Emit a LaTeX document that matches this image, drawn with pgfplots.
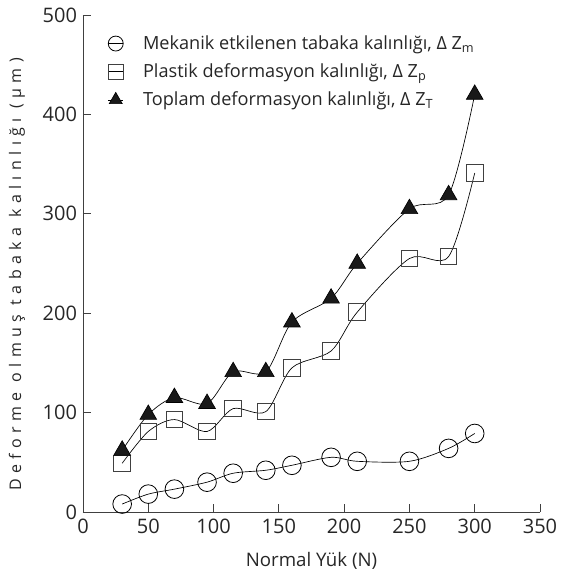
\documentclass[border=0pt]{standalone}
\usepackage{fontspec}
\setmainfont{Open Sans}
\usepackage{pgfplots}
\pgfplotsset{compat=1.18}
\begin{document}
\begin{tikzpicture}
\begin{axis}[
  name=ax,
  scale only axis, width=342.75pt, height=372.75pt,
  xmin=0, xmax=350, ymin=0, ymax=500,
  axis x line*=bottom, axis y line*=left,
  axis line style={-, black!75, line width=0.6pt},
  every tick/.style={black!75, line width=0.6pt},
  tick align=inside, major tick length=6pt,
  xtick={0,50,...,350}, ytick={0,100,...,500},
  tick label style={font=\fontsize{15}{17}\selectfont, text=black!85},
  xticklabel style={yshift=-2pt},
  yticklabel style={xshift=-1pt},
  /pgf/number format/assume math mode=true,
  xlabel={Normal Yük (N)},
  ylabel={\addfontfeature{LetterSpace=34}Deforme olmuş tabaka kalınlığı (µm)},
  xlabel style={font=\fontsize{14}{16}\selectfont, at={(axis description cs:0.5,0)}, anchor=base, yshift=-41pt, text=black!85},
  ylabel style={font=\fontsize{12}{14}\selectfont, at={(axis description cs:-0.1444,0.478)}, anchor=center, text=black!85},
  legend style={at={(0.045,0.967)}, anchor=north west, draw=none, fill=none,
    font=\fontsize{13.6}{15}\selectfont, row sep=7.25pt,
    nodes={inner ysep=1pt, text=black!85}},
  legend cell align=left,
  legend image code/.code={\draw[mark repeat=2,mark phase=2] plot coordinates {(0cm,0cm)(0.2cm,0cm)(0.4cm,0cm)}; \path[draw=none] (0cm,0cm) -- (0.85cm,0cm);},
  legend image post style={mark size=5.6pt},
]
\addplot[black, line width=0.5pt, smooth, mark=o, mark size=7pt, mark options={line width=0.6pt}] coordinates {
(30,8)(50,18)(70,23)(95,30)(115,39)(140,42)(160,47)(190,55)(210,51)(250,51)(280,64)(300,79)};
\addlegendentry{Mekanik etkilenen tabaka kalınlığı, Δ Z\textsubscript{m}}
\addplot[black, line width=0.5pt, smooth, mark=square, mark size=6.2pt, mark options={draw=black!75, line width=0.7pt}] coordinates {
(30,49)(50,81)(70,93)(95,81)(115,104)(140,101)(160,145)(190,162)(210,201)(250,255)(280,257)(300,341)};
\addlegendentry{Plastik deformasyon kalınlığı, Δ Z\textsubscript{p}}
\addplot[black, line width=0.5pt, smooth, mark=triangle*, mark size=7.2pt, mark options={fill=black!90}] coordinates {
(30,62)(50,98)(70,115)(95,109)(115,141)(140,141)(160,191)(190,215)(210,250)(250,305)(280,319)(300,420)};
\addlegendentry{Toplam deformasyon kalınlığı, Δ Z\textsubscript{T}}
\end{axis}
\pgfresetboundingbox
\path[use as bounding box] ([xshift=-62.25pt, yshift=-48.75pt]ax.south west) rectangle ([xshift=15pt, yshift=11.25pt]ax.north east);
\end{tikzpicture}
\end{document}
